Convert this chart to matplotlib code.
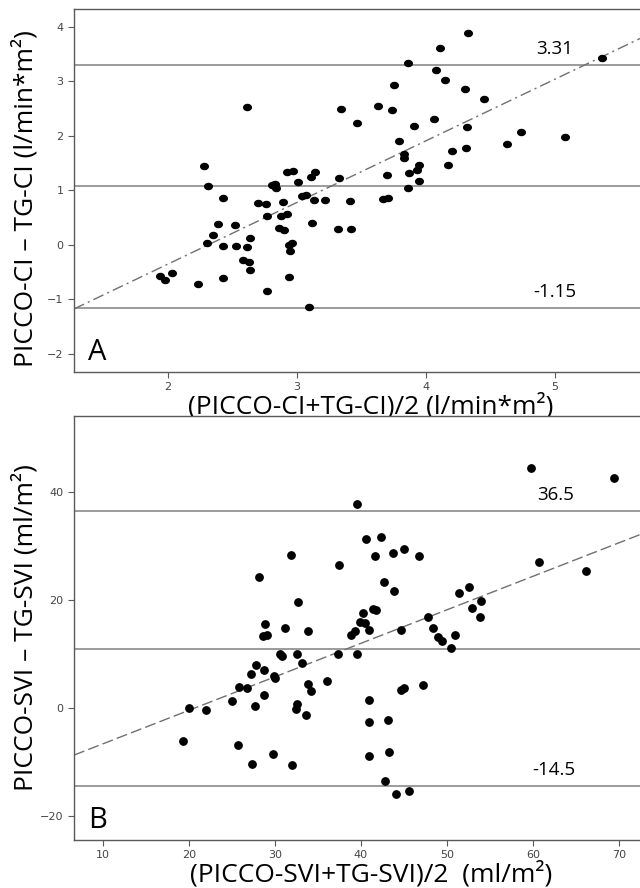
import numpy as np
import matplotlib
matplotlib.use("Agg")
import matplotlib.pyplot as plt
from matplotlib.path import Path

# Panel A: cardiac index (mean vs difference)
ci_mean = [1.94, 1.98, 2.03, 2.23, 2.28, 2.31, 2.30, 2.35, 2.39, 2.43, 2.43, 2.43,
           2.52, 2.53, 2.61, 2.64, 2.58, 2.63, 2.64, 2.70, 2.76, 2.77, 2.77, 2.81,
           2.83, 2.84, 2.89, 2.86, 2.90, 2.88, 2.92, 2.92, 2.97, 2.94, 2.96, 2.95,
           2.94, 3.01, 3.04, 3.07, 3.09, 3.11, 3.14, 3.12, 3.13, 3.22, 3.33, 3.32,
           3.41, 3.42, 2.61, 3.34, 3.47, 3.63, 3.74, 3.75, 3.86, 3.79, 3.83, 3.83,
           3.91, 3.70, 3.67, 3.71, 3.86, 3.87, 3.93, 3.95, 3.95, 4.06, 4.08, 4.11,
           4.15, 4.17, 4.20, 4.30, 4.32, 4.31, 4.33, 4.45, 4.63, 4.74, 5.08, 5.37]
ci_diff = [-0.56, -0.65, -0.51, -0.72, 1.45, 1.09, 0.04, 0.18, 0.39, 0.86, -0.01, -0.61,
           0.36, -0.01, -0.04, 0.12, -0.27, -0.32, -0.45, 0.77, 0.76, 0.53, -0.84, 1.10,
           1.11, 1.05, 0.78, 0.31, 0.27, 0.54, 0.56, 1.34, 1.36, 0.00, 0.03, -0.11,
           -0.58, 1.16, 0.89, 0.91, -1.13, 1.25, 1.34, 0.41, 0.83, 0.82, 1.23, 0.29,
           0.80, 0.29, 2.53, 2.50, 2.24, 2.55, 2.47, 2.93, 3.33, 1.91, 1.67, 1.59,
           2.18, 1.29, 0.85, 0.87, 1.05, 1.32, 1.37, 1.46, 1.17, 2.32, 3.21, 3.62,
           3.02, 1.47, 1.73, 2.86, 2.16, 1.78, 3.88, 2.68, 1.86, 2.08, 1.99, 3.43]
ci_bias = 1.08
ci_limits = [3.31, -1.15]
ci_fit = (1.13, -2.61)  # slope, intercept

# Panel B: stroke volume index
svi_mean = [39.6, 31.9, 37.4, 28.2, 32.7, 59.8, 69.4, 40.6, 42.3, 41.6, 43.7, 45.0,
            46.8, 42.7, 43.8, 60.7, 66.2, 51.4, 52.6, 54.0, 52.9, 53.8, 47.8, 40.3,
            41.4, 41.8, 28.9, 28.6, 29.1, 31.2, 33.9, 38.9, 39.3, 30.6, 30.8, 32.6,
            33.2, 27.8, 28.7, 27.2, 29.9, 30.0, 25.8, 26.8, 28.7, 33.8, 34.2, 36.1,
            37.3, 39.5, 25.0, 27.7, 32.6, 32.5, 33.6, 20.0, 22.0, 19.3, 25.7, 29.8,
            27.3, 32.0, 39.9, 40.5, 40.9, 44.7, 48.4, 49.0, 49.4, 51.0, 50.5, 40.9,
            44.7, 45.0, 47.2, 41.0, 43.1, 40.9, 43.3, 42.8, 44.1, 45.6]
svi_diff = [37.8, 28.3, 26.5, 24.2, 19.6, 44.4, 42.7, 31.4, 31.6, 28.2, 28.8, 29.4,
            28.1, 23.3, 21.6, 27.1, 25.4, 21.4, 22.5, 19.8, 18.6, 16.9, 16.8, 17.7,
            18.3, 18.1, 15.5, 13.3, 13.5, 14.9, 14.2, 13.6, 14.2, 10.0, 9.6, 10.0,
            8.4, 7.9, 7.0, 6.3, 5.9, 5.6, 4.0, 3.8, 2.5, 4.5, 3.1, 5.0,
            10.0, 10.1, 1.4, 0.4, 0.7, -0.2, -1.2, 0.1, -0.4, -6.1, -6.8, -8.5,
            -10.3, -10.5, 16.0, 15.8, 14.4, 14.4, 14.8, 13.1, 12.5, 13.5, 11.2, 1.5,
            3.3, 3.8, 4.2, -2.5, -2.2, -8.8, -8.1, -13.4, -15.8, -15.4]
svi_bias = 11.0
svi_limits = [36.5, -14.5]
svi_fit = (0.62, -12.8)

label_font = "Open Sans"
grey = "#5a5a5a"

# slightly flattened dot marker
t = np.linspace(0, 2 * np.pi, 40)
ellipse = Path(np.column_stack([1.25 * np.cos(t), np.sin(t)]), closed=True)

fig = plt.figure(figsize=(6.4, 8.88), dpi=100)
axA = fig.add_axes([0.1156, 0.5811, 0.889, 0.4088])
axB = fig.add_axes([0.1156, 0.0541, 0.889, 0.4775])


def style(ax):
    ax.spines["right"].set_visible(False)
    for s in ["left", "bottom", "top"]:
        ax.spines[s].set_color(grey)
        ax.spines[s].set_linewidth(1.0)
    ax.tick_params(direction="out", length=4, width=0.8, color=grey,
                   labelcolor="#444444", labelsize=8)


def labels(ax, xlab, ylab, ylab_y):
    ax.set_ylabel(ylab, fontsize=19, family=label_font)
    ax.yaxis.label.set_va("center")
    ax.yaxis.set_label_coords(-0.086, ylab_y)
    ax.set_xlabel(xlab, fontsize=19, family=label_font)
    ax.xaxis.label.set_va("center")
    h = ax.get_position().height * 888
    ax.xaxis.set_label_coords(0.522, -34 / h)


# ---- panel A
axA.set_xlim(1.271, 5.684)
axA.set_ylim(-2.33, 4.33)
for v in [ci_bias] + ci_limits:
    axA.axhline(v, color="#8a8a8a", lw=1.2, zorder=1)
xs = np.array(axA.get_xlim())
axA.plot(xs, ci_fit[0] * xs + ci_fit[1], color="#707070", lw=1.0,
         linestyle=(0, (8, 3, 1.5, 3)), zorder=2)
axA.scatter(ci_mean, ci_diff, s=30, marker=ellipse, color="black", zorder=3)
axA.set_xticks([2, 3, 4, 5])
axA.set_yticks([-2, -1, 0, 1, 2, 3, 4])
axA.text(5.0, ci_limits[0] + 0.12, "3.31", ha="center", va="bottom",
         fontsize=13.5, family=label_font)
axA.text(5.0, ci_limits[1] + 0.12, "-1.15", ha="center", va="bottom",
         fontsize=13.5, family=label_font)
axA.text(0.024, 0.055, "A", transform=axA.transAxes, fontsize=21,
         family=label_font, va="center", ha="left")
labels(axA, "(PICCO-CI+TG-CI)/2 (l/min*m\u00b2)",
       "PICCO-CI \u2013 TG-CI (l/min*m\u00b2)", 0.477)
style(axA)

# ---- panel B
axB.set_xlim(6.63, 72.81)
axB.set_ylim(-24.4, 54.1)
for v in [svi_bias] + svi_limits:
    axB.axhline(v, color="#8a8a8a", lw=1.2, zorder=1)
xs = np.array(axB.get_xlim())
axB.plot(xs, svi_fit[0] * xs + svi_fit[1], color="#707070", lw=1.0,
         linestyle=(0, (8, 3)), zorder=2)
axB.scatter(svi_mean, svi_diff, s=28, marker="o", color="black", zorder=3)
axB.set_xticks([10, 20, 30, 40, 50, 60, 70])
axB.set_yticks([-20, 0, 20, 40])
axB.text(62.6, svi_limits[0] + 1.3, "36.5", ha="center", va="bottom",
         fontsize=13.5, family=label_font)
axB.text(62.4, svi_limits[1] + 1.3, "-14.5", ha="center", va="bottom",
         fontsize=13.5, family=label_font)
axB.text(0.024, 0.047, "B", transform=axB.transAxes, fontsize=21,
         family=label_font, va="center", ha="left")
labels(axB, "(PICCO-SVI+TG-SVI)/2  (ml/m\u00b2)",
       "PICCO-SVI \u2013 TG-SVI (ml/m\u00b2)", 0.5)
style(axB)

fig.savefig("out.png", dpi=100)
